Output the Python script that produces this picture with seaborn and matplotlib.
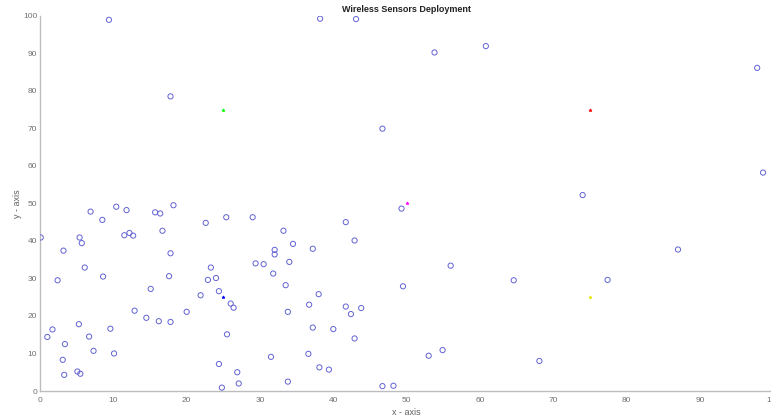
import matplotlib
matplotlib.use("Agg")
import matplotlib.pyplot as plt
import numpy as np
import pandas as pd
import seaborn as sns

# Sensor node positions (x, y) in the 100 x 100 field
sensor_x = [0.1, 1.0, 1.7, 2.4, 3.2, 3.4, 3.1, 3.3, 5.1, 5.5,
            5.3, 5.4, 5.7, 6.1, 6.9, 6.7, 7.3, 8.5, 8.6, 9.6,
            10.1, 10.4, 11.8, 11.5, 12.2, 12.7, 12.9, 14.5, 15.1, 15.7,
            16.4, 16.7, 16.2, 17.6, 17.8, 17.8, 18.2, 20.0, 21.9, 22.6,
            22.9, 23.3, 24.0, 24.4, 26.0, 26.4, 25.5, 24.4, 25.4, 24.8,
            26.9, 27.1, 29.0, 29.4, 30.5, 33.2, 34.5, 32.0, 32.0, 37.2,
            34.0, 31.8, 33.5, 38.0, 36.7, 33.8, 41.7, 42.4, 43.8, 37.2,
            40.0, 42.9, 31.5, 36.6, 38.1, 39.4, 33.8, 46.7, 48.2, 41.7,
            42.9, 49.3, 49.5, 56.0, 53.0, 54.9, 64.6, 77.4, 87.0, 68.1,
            98.6, 97.8, 74.0, 38.2, 43.1, 53.8, 60.8, 46.7, 9.4, 17.8]
sensor_y = [40.9, 14.4, 16.4, 29.5, 37.4, 12.5, 8.3, 4.3, 5.2, 4.6,
            17.8, 40.9, 39.4, 32.9, 47.8, 14.5, 10.7, 45.6, 30.5, 16.6,
            10.0, 49.1, 48.2, 41.5, 42.1, 41.4, 21.4, 19.5, 27.2, 47.6,
            47.3, 42.7, 18.6, 30.6, 36.7, 18.4, 49.5, 21.1, 25.5, 44.8,
            29.6, 32.9, 30.1, 26.6, 23.3, 22.2, 15.1, 7.2, 46.3, 0.9,
            5.0, 2.0, 46.3, 34.0, 33.8, 42.7, 39.2, 37.6, 36.4, 37.9,
            34.4, 31.3, 28.2, 25.8, 23.0, 21.1, 22.5, 20.5, 22.1, 16.9,
            16.5, 14.0, 9.1, 9.9, 6.3, 5.7, 2.5, 1.3, 1.4, 45.0,
            40.1, 48.6, 27.9, 33.4, 9.4, 10.9, 29.5, 29.6, 37.7, 8.0,
            58.2, 86.1, 52.2, 99.2, 99.1, 90.2, 91.9, 69.9, 98.9, 78.5]

# Cluster heads / base station positions and their colours
head_x = [25, 75, 50, 75, 25]
head_y = [75, 75, 50, 25, 25]
head_colors = ["#00ff00", "#ff0000", "#ff00ff", "#e6e600", "#0000ff"]

sns.set_style("white")
plt.rcParams["font.family"] = ["Liberation Sans", "DejaVu Sans"]

fig = plt.figure(figsize=(7.71, 4.17), dpi=100)
ax = fig.add_axes([40 / 771, 26 / 417, 733.3 / 771, 375.3 / 417])

sensors = pd.DataFrame({"x": sensor_x, "y": sensor_y})
sns.scatterplot(data=sensors, x="x", y="y", ax=ax, marker="o", s=14,
                linewidth=0.7, legend=False, zorder=3)
pts = ax.collections[-1]
pts.set_facecolor("none")
pts.set_edgecolor("#6262d4")

heads = pd.DataFrame({"x": head_x, "y": head_y, "c": head_colors})
for _, row in heads.iterrows():
    sns.scatterplot(x=[row["x"]], y=[row["y"]], ax=ax, marker="*", s=5,
                    color=row["c"], edgecolor=row["c"], linewidth=0.5,
                    legend=False, zorder=4)

ax.set_xlim(0, 100)
ax.set_ylim(0, 100)
ax.set_xticks(np.arange(0, 101, 10))
ax.set_yticks(np.arange(0, 101, 10))

for side in ("top", "right"):
    ax.spines[side].set_visible(False)
for side in ("left", "bottom"):
    ax.spines[side].set_color("#bdbdbd")
    ax.spines[side].set_linewidth(1.0)

ax.tick_params(axis="both", direction="in", length=6.5, width=0.8,
               color="#6a6a6a", labelcolor="#707070", labelsize=6)
ax.tick_params(axis="x", pad=4)
ax.tick_params(axis="y", pad=2)

ax.set_title("Wireless Sensors Deployment", fontsize=6.5,
             fontweight="bold", color="#222222", pad=3)
ax.set_xlabel("x - axis", fontsize=6.5, color="#606060", labelpad=3)
ax.set_ylabel("y - axis", fontsize=6.5, color="#606060", labelpad=1)

fig.savefig("out.png", dpi=100)
